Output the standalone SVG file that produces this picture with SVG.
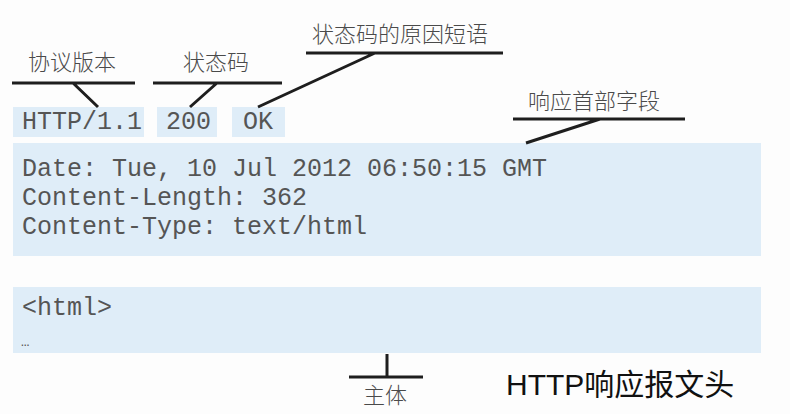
<svg xmlns="http://www.w3.org/2000/svg" width="790" height="414" viewBox="0 0 790 414">
<style>
.box{fill:#dfedf8}
.mono{font-family:"Liberation Mono","DejaVu Sans Mono",monospace;font-size:25px;fill:#555}
.lbl{font-family:"Noto Sans CJK SC","Noto Sans",sans-serif;font-size:22px;font-weight:300;fill:#4a4a4a}
.ln{stroke:#1e1e1e;stroke-width:3;fill:none}
.title{font-family:"Liberation Sans","Noto Sans CJK SC",sans-serif;font-size:30px;fill:#111}
</style>
<rect width="790" height="414" fill="#fdfdfd"/>
<g id="version">
<rect class="box" x="13" y="107" width="131" height="30"/>
<text class="mono" x="22" y="129">HTTP/1.1</text>
</g>
<g id="status">
<rect class="box" x="157" y="107" width="60" height="30"/>
<text class="mono" x="166" y="129">200</text>
</g>
<g id="reason">
<rect class="box" x="232" y="107" width="53" height="30"/>
<text class="mono" x="243" y="129">OK</text>
</g>
<g id="headers">
<rect class="box" x="13" y="143" width="748" height="113"/>
<text class="mono" x="22" y="176">Date: Tue, 10 Jul 2012 06:50:15 GMT</text>
<text class="mono" x="22" y="205">Content-Length: 362</text>
<text class="mono" x="22" y="234">Content-Type: text/html</text>
</g>
<g id="body">
<rect class="box" x="13" y="287" width="748" height="66"/>
<text class="mono" x="22" y="315">&lt;html&gt;</text>
<text class="mono" x="21" y="346" style="font-size:14px">…</text>
</g>
<g id="label-version"><text class="lbl" x="28" y="70">协议版本</text></g>
<g id="label-status"><text class="lbl" x="183" y="70">状态码</text></g>
<g id="label-reason"><text class="lbl" x="312" y="42">状态码的原因短语</text></g>
<g id="label-headers"><text class="lbl" x="528" y="109">响应首部字段</text></g>
<g id="label-body"><text class="lbl" x="363" y="403">主体</text></g>
<g id="title"><text class="title" x="506" y="395">HTTP响应报文头</text></g>
<g id="connectors">
<path class="ln" d="M12 83H135M73 83L98 107"/>
<path class="ln" d="M153 83H282M217 83L190 107"/>
<path class="ln" d="M306 53H503M375 53L258 107"/>
<path class="ln" d="M513 119H685M600 119L526 143"/>
<path class="ln" d="M387 354V377M349 377H423"/>
</g>
</svg>
